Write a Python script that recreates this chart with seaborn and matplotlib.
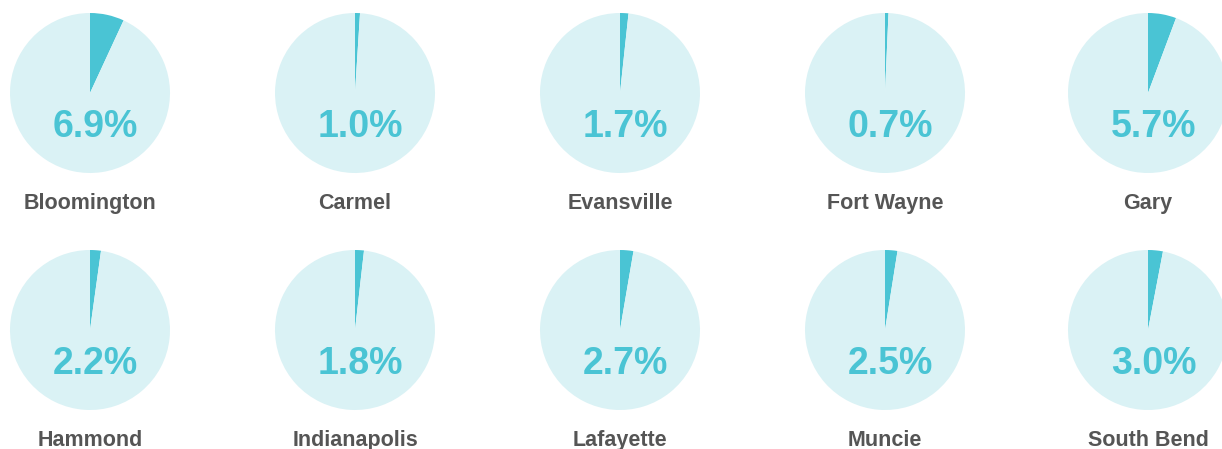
import matplotlib
matplotlib.use("Agg")
import matplotlib.pyplot as plt
import seaborn as sns

cities = ["Bloomington", "Carmel", "Evansville", "Fort Wayne", "Gary",
          "Hammond", "Indianapolis", "Lafayette", "Muncie", "South Bend"]
values = [6.9, 1.0, 1.7, 0.7, 5.7, 2.2, 1.8, 2.7, 2.5, 3.0]

sns.set_theme(style="white")
plt.rcParams['font.family'] = ['Liberation Sans', 'DejaVu Sans']

W, H = 1222, 449
fig = plt.figure(figsize=(W / 100, H / 100), dpi=100)
fig.patch.set_facecolor("white")

dark = "#4AC4D4"
light = "#DAF2F5"
col_x = [90, 355, 620, 885, 1148]
row_y = [93, 330]
R = 80

for i, (city, v) in enumerate(zip(cities, values)):
    cx = col_x[i % 5]
    cy = row_y[i // 5]
    ax = fig.add_axes([(cx - R) / W, (H - cy - R) / H, 2 * R / W, 2 * R / H])
    ax.pie([v, 100 - v], colors=[dark, light], startangle=90, counterclock=False,
           radius=1, wedgeprops=dict(linewidth=0))
    ax.set_xlim(-1, 1)
    ax.set_ylim(-1, 1)
    ax.set_aspect("equal")
    ax.axis("off")
    ax.text(0.07, -0.43, f"{v:.1f}%", ha="center", va="center", fontsize=27,
            fontweight="bold", color=dark, clip_on=False)
    ax.text(0.0, -1.38, city, ha="center", va="center", fontsize=15.5,
            fontweight="bold", color="#555555", clip_on=False)

fig.savefig("out.png", dpi=100)
